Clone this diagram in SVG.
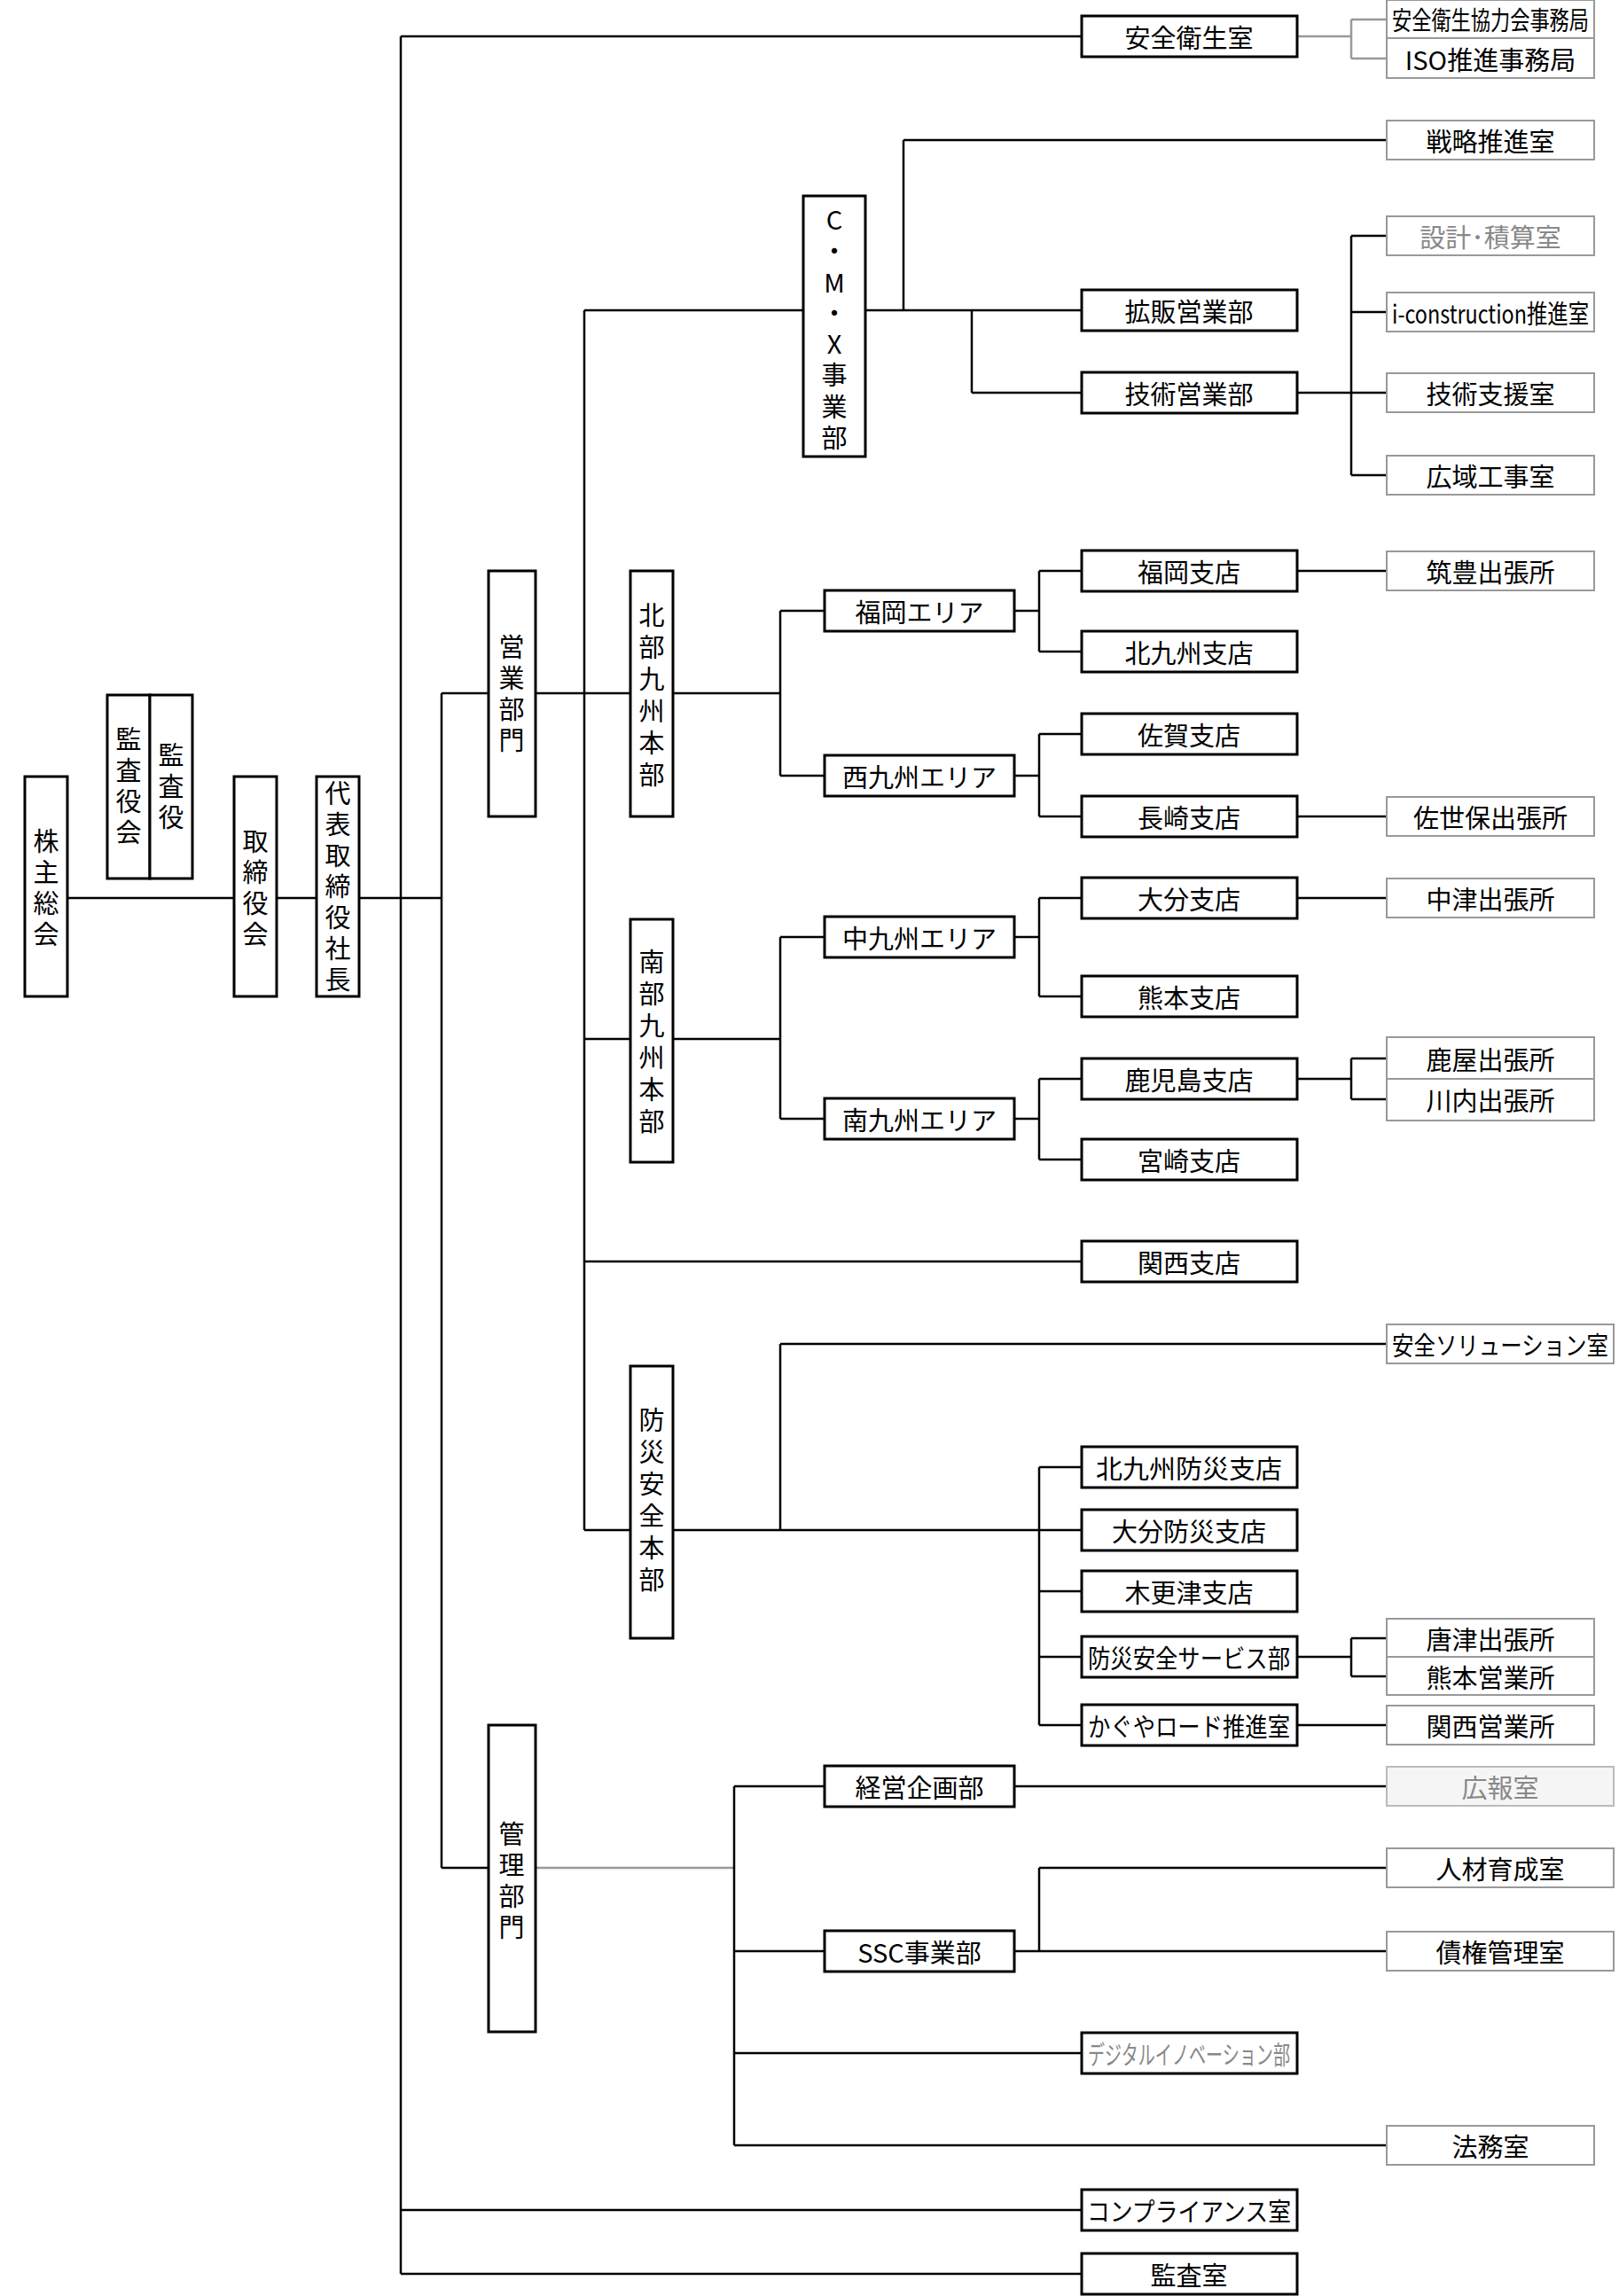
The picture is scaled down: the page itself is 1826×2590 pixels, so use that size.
<svg xmlns="http://www.w3.org/2000/svg" width="1826" height="2590" viewBox="0 0 1826 2590">
<style>
.b{fill:#fff;stroke:#000;stroke-width:3}
.g{fill:#fff;stroke:#999;stroke-width:2}
text{font-family:"Noto Sans CJK JP","Noto Sans",sans-serif;font-size:29px;text-anchor:middle;dominant-baseline:central;fill:#000}
.gt{fill:#888}
#conn line{stroke:#000;stroke-width:2.5}
#conn line.gl{stroke:#999}
</style>
<g id="conn">
<line x1="76" y1="1013" x2="264" y2="1013"/><line x1="312" y1="1013" x2="357" y2="1013"/><line x1="405" y1="1013" x2="498" y2="1013"/>
<line x1="452" y1="41" x2="452" y2="2565"/>
<line x1="452" y1="41" x2="1220" y2="41"/><line x1="452" y1="2493" x2="1220" y2="2493"/><line x1="452" y1="2565" x2="1220" y2="2565"/>
<line x1="498" y1="782" x2="498" y2="2107"/><line x1="498" y1="782" x2="551" y2="782"/><line x1="498" y1="2107" x2="551" y2="2107"/>
<line x1="604" y1="782" x2="711" y2="782"/>
<line x1="659" y1="350" x2="659" y2="1726"/><line x1="659" y1="350" x2="906" y2="350"/><line x1="659" y1="1423" x2="1220" y2="1423"/>
<line x1="976" y1="350" x2="1220" y2="350"/><line x1="1019" y1="158" x2="1019" y2="350"/><line x1="1019" y1="158" x2="1564" y2="158"/>
<line x1="1096" y1="350" x2="1096" y2="443"/><line x1="1096" y1="443" x2="1220" y2="443"/>
<line x1="1463" y1="443" x2="1564" y2="443"/><line x1="1524" y1="266" x2="1524" y2="536"/>
<line x1="1524" y1="266" x2="1564" y2="266"/><line x1="1524" y1="352" x2="1564" y2="352"/><line x1="1524" y1="536" x2="1564" y2="536"/>
<line x1="759" y1="782" x2="880" y2="782"/><line x1="880" y1="689" x2="880" y2="875"/><line x1="880" y1="689" x2="930" y2="689"/><line x1="880" y1="875" x2="930" y2="875"/>
<line x1="1144" y1="689" x2="1172" y2="689"/><line x1="1172" y1="644" x2="1172" y2="735"/><line x1="1172" y1="644" x2="1220" y2="644"/><line x1="1172" y1="735" x2="1220" y2="735"/>
<line x1="1144" y1="875" x2="1172" y2="875"/><line x1="1172" y1="828" x2="1172" y2="921"/><line x1="1172" y1="828" x2="1220" y2="828"/><line x1="1172" y1="921" x2="1220" y2="921"/>
<line x1="1463" y1="644" x2="1564" y2="644"/><line x1="1463" y1="921" x2="1564" y2="921"/><line x1="1463" y1="1013" x2="1564" y2="1013"/>
<line x1="659" y1="1172" x2="711" y2="1172"/><line x1="759" y1="1172" x2="880" y2="1172"/><line x1="880" y1="1057" x2="880" y2="1262"/><line x1="880" y1="1057" x2="930" y2="1057"/><line x1="880" y1="1262" x2="930" y2="1262"/>
<line x1="1144" y1="1057" x2="1172" y2="1057"/><line x1="1172" y1="1013" x2="1172" y2="1124"/><line x1="1172" y1="1013" x2="1220" y2="1013"/><line x1="1172" y1="1124" x2="1220" y2="1124"/>
<line x1="1144" y1="1262" x2="1172" y2="1262"/><line x1="1172" y1="1217" x2="1172" y2="1308"/><line x1="1172" y1="1217" x2="1220" y2="1217"/><line x1="1172" y1="1308" x2="1220" y2="1308"/>
<line x1="1463" y1="1217" x2="1524" y2="1217"/><line x1="1524" y1="1194" x2="1524" y2="1240"/><line x1="1524" y1="1194" x2="1564" y2="1194"/><line x1="1524" y1="1240" x2="1564" y2="1240"/>
<line x1="659" y1="1726" x2="711" y2="1726"/><line x1="759" y1="1726" x2="1220" y2="1726"/>
<line x1="880" y1="1516" x2="880" y2="1726"/><line x1="880" y1="1516" x2="1564" y2="1516"/>
<line x1="1172" y1="1655" x2="1172" y2="1946"/><line x1="1172" y1="1655" x2="1220" y2="1655"/><line x1="1172" y1="1795" x2="1220" y2="1795"/><line x1="1172" y1="1869" x2="1220" y2="1869"/><line x1="1172" y1="1946" x2="1220" y2="1946"/>
<line x1="1463" y1="1869" x2="1524" y2="1869"/><line x1="1524" y1="1848" x2="1524" y2="1891"/><line x1="1524" y1="1848" x2="1564" y2="1848"/><line x1="1524" y1="1891" x2="1564" y2="1891"/>
<line x1="1463" y1="1946" x2="1564" y2="1946"/>
<line class="gl" x1="604" y1="2107" x2="828" y2="2107"/>
<line x1="828" y1="2015" x2="828" y2="2420"/><line x1="828" y1="2015" x2="930" y2="2015"/><line x1="828" y1="2201" x2="930" y2="2201"/><line x1="828" y1="2316" x2="1220" y2="2316"/><line x1="828" y1="2420" x2="1564" y2="2420"/>
<line x1="1144" y1="2015" x2="1564" y2="2015"/><line x1="1144" y1="2201" x2="1564" y2="2201"/><line x1="1172" y1="2107" x2="1172" y2="2201"/><line x1="1172" y1="2107" x2="1564" y2="2107"/>
<line class="gl" x1="1463" y1="41" x2="1524" y2="41"/><line class="gl" x1="1524" y1="22" x2="1524" y2="66"/><line class="gl" x1="1524" y1="22" x2="1564" y2="22"/><line class="gl" x1="1524" y1="66" x2="1564" y2="66"/>
</g>
<g id="kabunushi"><rect class="b" x="28" y="876" width="48" height="248"/><text><tspan x="52" y="947">株</tspan><tspan x="52" y="982">主</tspan><tspan x="52" y="1017">総</tspan><tspan x="52" y="1052">会</tspan></text></g>
<g id="kansayakukai"><rect class="b" x="121" y="784" width="48" height="207"/><text><tspan x="145" y="832">監</tspan><tspan x="145" y="867">査</tspan><tspan x="145" y="902">役</tspan><tspan x="145" y="937">会</tspan></text></g>
<g id="kansayaku"><rect class="b" x="169" y="784" width="48" height="207"/><text><tspan x="193" y="850">監</tspan><tspan x="193" y="885">査</tspan><tspan x="193" y="920">役</tspan></text></g>
<g id="torishimariyakukai"><rect class="b" x="264" y="876" width="48" height="248"/><text><tspan x="288" y="947">取</tspan><tspan x="288" y="982">締</tspan><tspan x="288" y="1017">役</tspan><tspan x="288" y="1052">会</tspan></text></g>
<g id="shacho"><rect class="b" x="357" y="876" width="48" height="248"/><text><tspan x="381" y="893">代</tspan><tspan x="381" y="928">表</tspan><tspan x="381" y="963">取</tspan><tspan x="381" y="998">締</tspan><tspan x="381" y="1033">役</tspan><tspan x="381" y="1068">社</tspan><tspan x="381" y="1103">長</tspan></text></g>
<g id="eigyo"><rect class="b" x="551" y="644" width="53" height="277"/><text><tspan x="577" y="728">営</tspan><tspan x="577" y="763">業</tspan><tspan x="577" y="798">部</tspan><tspan x="577" y="833">門</tspan></text></g>
<g id="kanri"><rect class="b" x="551" y="1946" width="53" height="346"/><text><tspan x="577" y="2067">管</tspan><tspan x="577" y="2102">理</tspan><tspan x="577" y="2137">部</tspan><tspan x="577" y="2172">門</tspan></text></g>
<g id="cmx"><rect class="b" x="906" y="221" width="70" height="294"/><text><tspan x="941" y="246">C</tspan><tspan x="941" y="281">・</tspan><tspan x="941" y="317">M</tspan><tspan x="941" y="351">・</tspan><tspan x="941" y="386">X</tspan><tspan x="941" y="421">事</tspan><tspan x="941" y="457">業</tspan><tspan x="941" y="492">部</tspan></text></g>
<g id="hokubu"><rect class="b" x="711" y="644" width="48" height="277"/><text><tspan x="735" y="692">北</tspan><tspan x="735" y="728">部</tspan><tspan x="735" y="764">九</tspan><tspan x="735" y="800">州</tspan><tspan x="735" y="836">本</tspan><tspan x="735" y="872">部</tspan></text></g>
<g id="nanbu"><rect class="b" x="711" y="1037" width="48" height="274"/><text><tspan x="735" y="1083">南</tspan><tspan x="735" y="1119">部</tspan><tspan x="735" y="1155">九</tspan><tspan x="735" y="1191">州</tspan><tspan x="735" y="1227">本</tspan><tspan x="735" y="1263">部</tspan></text></g>
<g id="bosai"><rect class="b" x="711" y="1541" width="48" height="307"/><text><tspan x="735" y="1600">防</tspan><tspan x="735" y="1636">災</tspan><tspan x="735" y="1672">安</tspan><tspan x="735" y="1708">全</tspan><tspan x="735" y="1744">本</tspan><tspan x="735" y="1780">部</tspan></text></g>
<g id="anzeneisei"><rect class="b" x="1220" y="18" width="243" height="46"/><text x="1341" y="41">安全衛生室</text></g>
<g id="kakuhan"><rect class="b" x="1220" y="327" width="243" height="46"/><text x="1341" y="350">拡販営業部</text></g>
<g id="gijutsueigyo"><rect class="b" x="1220" y="420" width="243" height="46"/><text x="1341" y="443">技術営業部</text></g>
<g id="fukuoka"><rect class="b" x="1220" y="621" width="243" height="46"/><text x="1341" y="644">福岡支店</text></g>
<g id="kitakyushu"><rect class="b" x="1220" y="712" width="243" height="46"/><text x="1341" y="735">北九州支店</text></g>
<g id="saga"><rect class="b" x="1220" y="805" width="243" height="46"/><text x="1341" y="828">佐賀支店</text></g>
<g id="nagasaki"><rect class="b" x="1220" y="898" width="243" height="46"/><text x="1341" y="921">長崎支店</text></g>
<g id="oita"><rect class="b" x="1220" y="990" width="243" height="46"/><text x="1341" y="1013">大分支店</text></g>
<g id="kumamoto"><rect class="b" x="1220" y="1101" width="243" height="46"/><text x="1341" y="1124">熊本支店</text></g>
<g id="kagoshima"><rect class="b" x="1220" y="1194" width="243" height="46"/><text x="1341" y="1217">鹿児島支店</text></g>
<g id="miyazaki"><rect class="b" x="1220" y="1285" width="243" height="46"/><text x="1341" y="1308">宮崎支店</text></g>
<g id="kansai"><rect class="b" x="1220" y="1400" width="243" height="46"/><text x="1341" y="1423">関西支店</text></g>
<g id="kitakyubosai"><rect class="b" x="1220" y="1632" width="243" height="46"/><text x="1341" y="1655" textLength="210" lengthAdjust="spacingAndGlyphs">北九州防災支店</text></g>
<g id="oitabosai"><rect class="b" x="1220" y="1703" width="243" height="46"/><text x="1341" y="1726">大分防災支店</text></g>
<g id="kisarazu"><rect class="b" x="1220" y="1772" width="243" height="46"/><text x="1341" y="1795">木更津支店</text></g>
<g id="bosaiservice"><rect class="b" x="1220" y="1846" width="243" height="46"/><text x="1341" y="1869" font-size="25" textLength="228" lengthAdjust="spacingAndGlyphs">防災安全サービス部</text></g>
<g id="kaguya"><rect class="b" x="1220" y="1923" width="243" height="46"/><text x="1341" y="1946" font-size="25" textLength="228" lengthAdjust="spacingAndGlyphs">かぐやロード推進室</text></g>
<g id="digital"><rect class="b" x="1220" y="2293" width="243" height="46"/><text class="gt" x="1341" y="2316" font-size="22" textLength="228" lengthAdjust="spacingAndGlyphs">デジタルイノベーション部</text></g>
<g id="compliance"><rect class="b" x="1220" y="2470" width="243" height="46"/><text x="1341" y="2493" font-size="27" textLength="230" lengthAdjust="spacingAndGlyphs">コンプライアンス室</text></g>
<g id="kansashitsu"><rect class="b" x="1220" y="2542" width="243" height="46"/><text x="1341" y="2565">監査室</text></g>
<g id="fukuokaarea"><rect class="b" x="930" y="666" width="214" height="46"/><text x="1037" y="689">福岡エリア</text></g>
<g id="nishikyushu"><rect class="b" x="930" y="852" width="214" height="46"/><text x="1037" y="875">西九州エリア</text></g>
<g id="nakakyushu"><rect class="b" x="930" y="1034" width="214" height="46"/><text x="1037" y="1057">中九州エリア</text></g>
<g id="minamikyushu"><rect class="b" x="930" y="1239" width="214" height="46"/><text x="1037" y="1262">南九州エリア</text></g>
<g id="keiei"><rect class="b" x="930" y="1992" width="214" height="46"/><text x="1037" y="2015">経営企画部</text></g>
<g id="ssc"><rect class="b" x="930" y="2178" width="214" height="46"/><text x="1037" y="2201">SSC事業部</text></g>
<g id="kyoryokukai"><rect class="g" x="1564" y="0" width="234" height="43"/><text x="1681" y="21" font-size="22" textLength="222" lengthAdjust="spacingAndGlyphs">安全衛生協力会事務局</text></g>
<g id="iso"><rect class="g" x="1564" y="43" width="234" height="45"/><text x="1681" y="66">ISO推進事務局</text></g>
<g id="senryaku"><rect class="g" x="1564" y="136" width="234" height="44"/><text x="1681" y="158">戦略推進室</text></g>
<g id="sekkei"><rect class="g" x="1564" y="244" width="234" height="44"/><text class="gt" x="1681" y="266">設計･積算室</text></g>
<g id="icon"><rect class="g" x="1564" y="330" width="234" height="44"/><text x="1681" y="352" font-size="22" textLength="222" lengthAdjust="spacingAndGlyphs">i-construction推進室</text></g>
<g id="gijutsushien"><rect class="g" x="1564" y="421" width="234" height="44"/><text x="1681" y="443">技術支援室</text></g>
<g id="koiki"><rect class="g" x="1564" y="514" width="234" height="44"/><text x="1681" y="536">広域工事室</text></g>
<g id="chikuho"><rect class="g" x="1564" y="622" width="234" height="44"/><text x="1681" y="644">筑豊出張所</text></g>
<g id="sasebo"><rect class="g" x="1564" y="899" width="234" height="44"/><text x="1681" y="921">佐世保出張所</text></g>
<g id="nakatsu"><rect class="g" x="1564" y="991" width="234" height="44"/><text x="1681" y="1013">中津出張所</text></g>
<g id="kanoya"><rect class="g" x="1564" y="1170" width="234" height="47"/><text x="1681" y="1194">鹿屋出張所</text></g>
<g id="sendai"><rect class="g" x="1564" y="1217" width="234" height="47"/><text x="1681" y="1240">川内出張所</text></g>
<g id="anzensol"><rect class="g" x="1564" y="1494" width="256" height="44"/><text x="1692" y="1516" font-size="26" textLength="244" lengthAdjust="spacingAndGlyphs">安全ソリューション室</text></g>
<g id="karatsu"><rect class="g" x="1564" y="1826" width="234" height="43"/><text x="1681" y="1848">唐津出張所</text></g>
<g id="kumamotoeigyo"><rect class="g" x="1564" y="1869" width="234" height="43"/><text x="1681" y="1891">熊本営業所</text></g>
<g id="kansaieigyo"><rect class="g" x="1564" y="1924" width="234" height="44"/><text x="1681" y="1946">関西営業所</text></g>
<g id="koho"><rect class="g" x="1564" y="1993" width="256" height="44" style="fill:#f5f5f5;stroke:#bbb"/><text class="gt" x="1692" y="2015">広報室</text></g>
<g id="jinzai"><rect class="g" x="1564" y="2085" width="256" height="44"/><text x="1692" y="2107">人材育成室</text></g>
<g id="saiken"><rect class="g" x="1564" y="2179" width="256" height="44"/><text x="1692" y="2201">債権管理室</text></g>
<g id="homu"><rect class="g" x="1564" y="2398" width="234" height="44"/><text x="1681" y="2420">法務室</text></g>
</svg>
